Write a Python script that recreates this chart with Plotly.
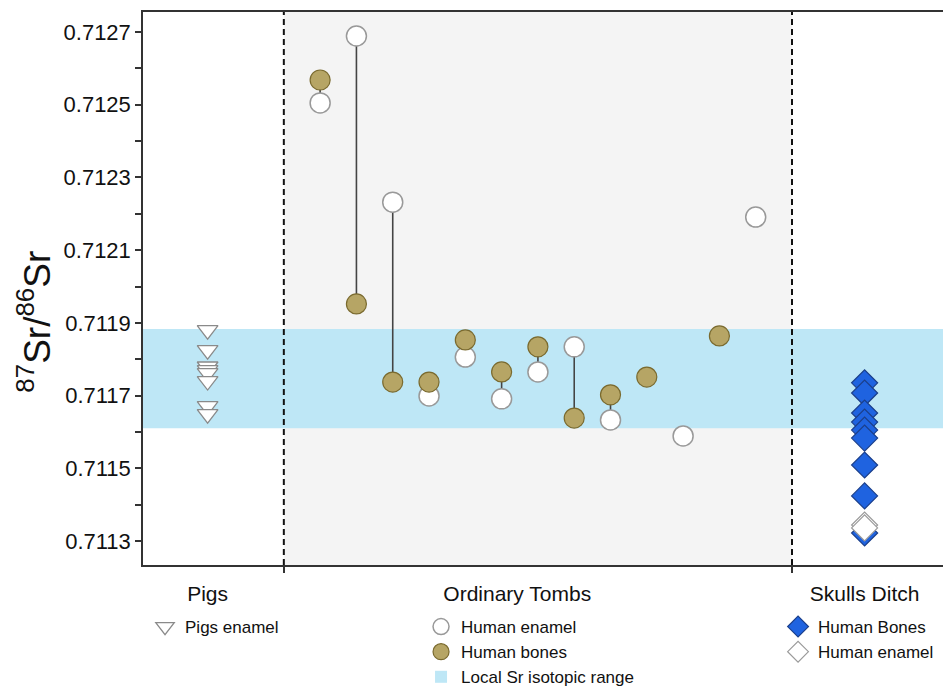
import plotly.graph_objects as go

# ---------------- data ----------------
x_range = [-3.88, 18.16]
boundaries = [0, 14]
cat_pos = [-2.1, 6.43, 16]
cat_labels = ["Pigs", "Ordinary Tombs", "Skulls Ditch"]

local_lo = 0.71161
local_hi = 0.711883

pig_x = -2.1
pig_enamel = [0.71188, 0.711825, 0.71178, 0.71177, 0.711762, 0.71174, 0.711671, 0.711649]

tomb_x = [1, 2, 3, 4, 5, 6, 7, 8, 9, 10, 11, 12, 13]
tomb_bone = [0.712568, 0.711952, 0.711737, 0.711737, 0.711853, 0.711765, 0.711834,
             0.711638, 0.711702, 0.711751, None, 0.711864, None]
tomb_enamel = [0.712505, 0.712689, 0.712232, 0.711699, 0.711806, 0.711691, 0.711765,
               0.711834, 0.711633, None, 0.711589, None, 0.712191]

skull_x = 16
skull_bone = [0.711735, 0.711707, 0.711652, 0.711627, 0.711605, 0.711583,
              0.711509, 0.711424, 0.711322]
skull_enamel = [0.711344, 0.711336]

y_ticks = [0.7113, 0.7115, 0.7117, 0.7119, 0.7121, 0.7123, 0.7125, 0.7127]
y_range = [0.711234, 0.712755]
y_title = "<sup>87</sup>Sr/<sup>86</sup>Sr"

FONT = "Liberation Sans, Arial, sans-serif"

fig = go.Figure()

# connecting lines between paired samples
lx, ly = [], []
for xv, b, e in zip(tomb_x, tomb_bone, tomb_enamel):
    if b is not None and e is not None:
        lx += [xv, xv, None]
        ly += [b, e, None]
fig.add_trace(go.Scatter(x=lx, y=ly, mode="lines",
                         line=dict(color="#444444", width=1.6),
                         showlegend=False, hoverinfo="skip"))

# pigs
fig.add_trace(go.Scatter(
    x=[pig_x] * len(pig_enamel), y=pig_enamel, mode="markers",
    marker=dict(symbol="triangle-down", size=18, color="white",
                line=dict(color="#8a8a8a", width=1.3)),
    name="Pigs enamel", legend="legend"))

# ordinary tombs
fig.add_trace(go.Scatter(
    x=tomb_x, y=tomb_enamel, mode="markers",
    marker=dict(symbol="circle", size=20, color="white",
                line=dict(color="#999999", width=1.5)),
    name="Human enamel", legend="legend2", legendrank=1))
fig.add_trace(go.Scatter(
    x=tomb_x, y=tomb_bone, mode="markers",
    marker=dict(symbol="circle", size=20, color="#b6a565",
                line=dict(color="#7a6a2e", width=1.2)),
    name="Human bones", legend="legend2", legendrank=2))

# skulls ditch
fig.add_trace(go.Scatter(
    x=[skull_x] * len(skull_bone), y=skull_bone, mode="markers",
    marker=dict(symbol="diamond", size=20, color="#1f63e0",
                line=dict(color="#1b3f8a", width=1.2)),
    name="Human Bones", legend="legend3"))
fig.add_trace(go.Scatter(
    x=[skull_x] * len(skull_enamel), y=skull_enamel, mode="markers",
    marker=dict(symbol="diamond", size=20, color="white",
                line=dict(color="#9a9a9a", width=1.2)),
    name="Human enamel", legend="legend3"))

# grey tomb region, local band and dashed separators
fig.add_shape(type="rect", xref="x", yref="paper", x0=boundaries[0], x1=boundaries[1],
              y0=0, y1=1, fillcolor="#f4f4f4", line=dict(width=0), layer="below")
fig.add_shape(type="rect", xref="x", yref="y", x0=x_range[0], x1=x_range[1],
              y0=local_lo, y1=local_hi, fillcolor="#bee7f6", line=dict(width=0),
              layer="below", showlegend=True, name="Local Sr isotopic range",
              legend="legend2", legendrank=3)
for b in boundaries:
    fig.add_shape(type="line", xref="x", yref="paper", x0=b, x1=b, y0=0, y1=1,
                  line=dict(color="#111111", width=2, dash="6px,4px"), layer="above")

# y-axis title as rotated text
fig.add_annotation(text=y_title, xref="paper", yref="paper", x=-0.135, y=0.44,
                   xanchor="center", yanchor="middle", textangle=-90, showarrow=False,
                   font=dict(family=FONT, size=37, color="#111"))

leg_common = dict(bgcolor="rgba(0,0,0,0)", font=dict(family=FONT, size=17, color="#111"),
                  xanchor="left", yanchor="top", xref="container", yref="container",
                  tracegroupgap=0, itemsizing="trace")

fig.update_layout(
    width=943, height=683,
    margin=dict(l=135, r=8, t=4, b=126, autoexpand=False),
    paper_bgcolor="white", plot_bgcolor="white",
    font=dict(family=FONT, color="#111"),
    xaxis=dict(range=x_range, tickvals=cat_pos, ticktext=cat_labels, ticks="",
               tickfont=dict(size=21, color="#111"), showgrid=False, zeroline=False,
               showline=True, linecolor="#333", linewidth=1.5, mirror=True,
               ticklabelstandoff=9, automargin=False, tickangle=0,
               minor=dict(tickvals=boundaries, ticks="outside", ticklen=6,
                          tickcolor="#333", tickwidth=1.5, showgrid=False)),
    yaxis=dict(range=y_range, tickvals=y_ticks, tickformat=".4f", ticks="outside",
               ticklen=6, tickcolor="#333", tickwidth=1.5,
               tickfont=dict(size=22, color="#111"), showgrid=False, zeroline=False,
               showline=True, linecolor="#333", linewidth=1.5, mirror=True,
               automargin=False,
               minor=dict(dtick=0.0001, ticks="outside", ticklen=6, tickcolor="#333",
                          tickwidth=1.5, showgrid=False)),
    legend=dict(x=0.1453, y=0.12, **leg_common),
    legend2=dict(x=0.438, y=0.12, **leg_common),
    legend3=dict(x=0.8166, y=0.12, **leg_common),
)

fig.write_html("out.html")
